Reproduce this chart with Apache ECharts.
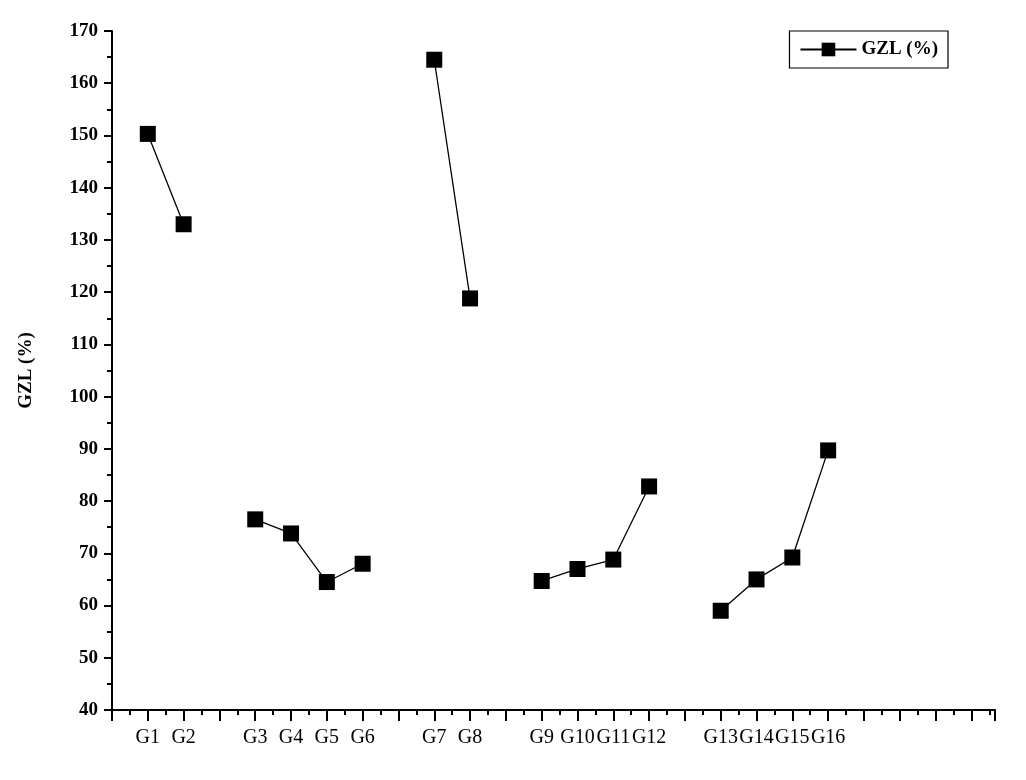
<!DOCTYPE html>
<html><head><meta charset="utf-8">
<script src="https://cdn.jsdelivr.net/npm/echarts@6/dist/echarts.min.js"></script>
<style>html,body{margin:0;background:#fff}#c{width:1026px;height:780px}</style>
</head><body><div id="c"></div>
<script>
// slot position of each group on the x axis, null = gap between groups
const categories = ['G1','G2',null,'G3','G4','G5','G6',null,'G7','G8',null,'G9','G10','G11','G12',null,'G13','G14','G15','G16'];
const gzl = [150.3,133.0,null,76.5,73.8,64.5,68.0,null,164.5,118.8,null,64.7,67.0,68.8,82.8,null,59.0,65.0,69.2,89.7];
const yTicks = [40,170,10];

const data = categories.map((c, i) => gzl[i] == null ? [i + 1, null] : [i + 1, gzl[i]]);
const font = '"Liberation Serif", "DejaVu Serif", serif';

const chart = echarts.init(document.getElementById('c'));
chart.setOption({
  animation: false,
  textStyle: { fontFamily: font },
  grid: { left: 112, right: 31, top: 31, bottom: 70 },
  legend: {
    right: 78, top: 31, padding: [9, 10, 9, 10],
    borderColor: '#000', borderWidth: 1.2, borderRadius: 0,
    itemWidth: 56, itemHeight: 17,
    textStyle: { fontFamily: font, fontWeight: 'bold', fontSize: 19, color: '#000' },
    data: ['GZL (%)']
  },
  xAxis: {
    type: 'value', min: 0, max: 24.66, interval: 1,
    axisLine: { lineStyle: { color: '#000', width: 2 } },
    axisTick: { length: 11, lineStyle: { color: '#000', width: 2 } },
    minorTick: { show: true, splitNumber: 2, length: 5, lineStyle: { color: '#000', width: 2 } },
    splitLine: { show: false },
    axisLabel: {
      color: '#000', fontSize: 20, margin: 18, showMaxLabel: false,
      formatter: v => (v >= 1 && Number.isInteger(v) && categories[v - 1]) || ''
    }
  },
  yAxis: {
    type: 'value', min: yTicks[0], max: yTicks[1], interval: yTicks[2],
    name: 'GZL (%)', nameLocation: 'middle', nameGap: 76,
    nameTextStyle: { fontFamily: font, fontWeight: 'bold', fontSize: 19, color: '#000' },
    axisLine: { show: true, lineStyle: { color: '#000', width: 2 } },
    axisTick: { show: true, length: 8, lineStyle: { color: '#000', width: 2 } },
    minorTick: { show: true, splitNumber: 2, length: 5, lineStyle: { color: '#000', width: 2 } },
    splitLine: { show: false },
    axisLabel: { color: '#000', fontSize: 19, fontWeight: 'bold', margin: 14 }
  },
  series: [{
    name: 'GZL (%)', type: 'line', data: data, connectNulls: false,
    symbol: 'rect', symbolSize: 16,
    itemStyle: { color: '#000' },
    lineStyle: { color: '#000', width: 1.3 }
  }]
});
</script></body></html>
